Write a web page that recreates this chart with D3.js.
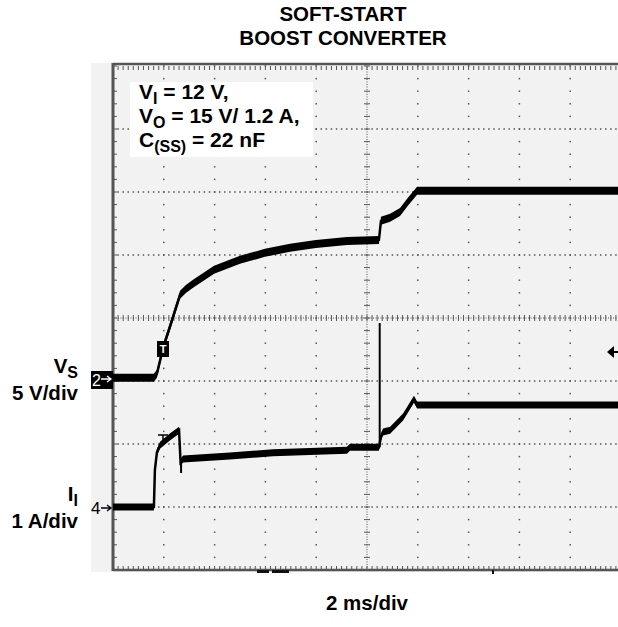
<!DOCTYPE html>
<html>
<head>
<meta charset="utf-8">
<script src="https://cdn.jsdelivr.net/npm/d3@7"></script>
<style>
  body { margin: 0; background: #fff; }
  svg { display: block; font-family: "Liberation Sans", Arial, sans-serif; }
</style>
</head>
<body>
<div id="chart"></div>
<script>
// Channel 2: V_S (5 V/div), channel 4: I_I (1 A/div), 2 ms/div
var vsTime  = [0, 1.61, 1.73, 1.97, 2.24, 2.64, 2.87, 3.15, 3.98, 5.0, 5.98, 6.97, 7.99, 9.21, 10.47, 10.55, 10.91, 11.3, 11.61, 11.97, 20];
var vsVolts = [0, 0, 0.32, 2.38, 4.05, 6.59, 7.06, 7.46, 8.57, 9.37, 9.92, 10.32, 10.63, 10.87, 10.95, 12.46, 12.7, 13.17, 13.97, 14.84, 14.84];

var iiTime = [0, 1.61, 1.65, 1.73, 1.85, 2.24, 2.6, 2.66, 2.76, 4.6, 6.3, 9.21, 9.33, 10.47, 10.55, 10.63, 10.91, 11.42, 11.85, 11.97, 20];
var iiAmps = [0, 0, 0.59, 0.87, 0.98, 1.11, 1.22, 0.71, 0.76, 0.81, 0.86, 0.90, 0.95, 0.95, 1.11, 1.19, 1.22, 1.43, 1.71, 1.62, 1.62];

// narrow glitches on the current trace
var spikeTime = [2.68, 10.5];
var spikeFrom = [0.76, 0.95];
var spikeTo   = [0.54, 2.92];

var titleLines = ["SOFT-START", "BOOST CONVERTER"];
var xLabel = "2 ms/div";

var width = 618, height = 627;

var svg = d3.select("#chart").append("svg")
    .attr("width", width)
    .attr("height", height);

var x = d3.scaleLinear()
    .domain([0, 20])
    .range([113, 621]);

// vertical graticule in divisions
var div = d3.scaleLinear()
    .domain([-4, 4])
    .range([570, 66]);

var yV = d3.scaleLinear()
    .domain([0, 5])
    .range([div(-0.95), div(0.05)]);

var yI = d3.scaleLinear()
    .domain([0, 1])
    .range([div(-3), div(-2)]);

// Screen background
svg.append("rect")
    .attr("x", 91)
    .attr("y", 63)
    .attr("width", width - 91)
    .attr("height", 509)
    .style("fill", "#f2f2f2");

var grid = svg.append("g")
    .attr("class", "grid");

var minorX = d3.range(0, 101).map(function(i) { return i / 5; }),
    minorY = d3.range(-20, 21).map(function(i) { return i / 5; });

// Major dotted lines
[2, 4, 6, 8, 12, 14, 16, 18].forEach(function(t) {
  grid.selectAll(null)
      .data(minorY)
    .enter().append("rect")
      .attr("x", x(t) - 0.75)
      .attr("y", function(d) { return div(d) - 0.75; })
      .attr("width", 1.5)
      .attr("height", 1.5)
      .style("fill", "#555");
});

[-3, -2, -1, 1, 2, 3].forEach(function(v) {
  grid.selectAll(null)
      .data(minorX)
    .enter().append("rect")
      .attr("x", function(d) { return x(d) - 0.75; })
      .attr("y", div(v) - 0.75)
      .attr("width", 1.5)
      .attr("height", 1.5)
      .style("fill", "#555");
});

// Center cross with minor ticks
grid.append("line")
    .attr("x1", x(0)).attr("x2", x(20))
    .attr("y1", div(0)).attr("y2", div(0))
    .style("stroke", "#555")
    .style("stroke-dasharray", "1,1.5");
grid.append("line")
    .attr("x1", x(10)).attr("x2", x(10))
    .attr("y1", div(-4)).attr("y2", div(4))
    .style("stroke", "#555")
    .style("stroke-dasharray", "1,1.5");

grid.selectAll(".hTick")
    .data(minorX)
  .enter().append("line")
    .attr("class", "hTick")
    .attr("x1", function(d) { return x(d); })
    .attr("x2", function(d) { return x(d); })
    .attr("y1", div(0) - 3)
    .attr("y2", div(0) + 3)
    .style("stroke", "#555");

grid.selectAll(".vTick")
    .data(minorY)
  .enter().append("line")
    .attr("class", "vTick")
    .attr("x1", x(10) - 3)
    .attr("x2", x(10) + 3)
    .attr("y1", function(d) { return div(d); })
    .attr("y2", function(d) { return div(d); })
    .style("stroke", "#555");

// Border ticks
grid.selectAll(".topTick")
    .data(minorX)
  .enter().append("line")
    .attr("x1", function(d) { return x(d); })
    .attr("x2", function(d) { return x(d); })
    .attr("y1", div(4))
    .attr("y2", div(4) + 4)
    .style("stroke", "#555");

grid.selectAll(".bottomTick")
    .data(minorX)
  .enter().append("line")
    .attr("x1", function(d) { return x(d); })
    .attr("x2", function(d) { return x(d); })
    .attr("y1", div(-4))
    .attr("y2", div(-4) - 4)
    .style("stroke", "#555");

grid.selectAll(".leftTick")
    .data(minorY)
  .enter().append("line")
    .attr("x1", x(0))
    .attr("x2", x(0) + 4)
    .attr("y1", function(d) { return div(d); })
    .attr("y2", function(d) { return div(d); })
    .style("stroke", "#555");

// Frame
svg.append("line")
    .attr("x1", x(0)).attr("x2", width)
    .attr("y1", div(4) - 2).attr("y2", div(4) - 2)
    .style("stroke", "#555")
    .style("stroke-width", 2.5);
svg.append("line")
    .attr("x1", x(0)).attr("x2", width)
    .attr("y1", div(-4)).attr("y2", div(-4))
    .style("stroke", "#555")
    .style("stroke-width", 2.5);
svg.append("line")
    .attr("x1", x(0)).attr("x2", x(0))
    .attr("y1", div(4) - 3).attr("y2", div(-4) + 1)
    .style("stroke", "#555")
    .style("stroke-width", 3);

// Position markers under the frame
svg.append("rect").attr("x", 257).attr("y", 570).attr("width", 12).attr("height", 3).style("fill", "#111");
svg.append("rect").attr("x", 272).attr("y", 570).attr("width", 17).attr("height", 3).style("fill", "#111");
svg.append("rect").attr("x", 492).attr("y", 570).attr("width", 2).attr("height", 4).style("fill", "#111");

// Traces
function trace(times, values, y, half) {
  var pts = times.map(function(t, i) { return [t, values[i]]; });

  var g = svg.append("g").attr("class", "trace");

  g.append("path")
      .datum(pts)
      .attr("d", d3.area()
          .x(function(d) { return x(d[0]); })
          .y0(function(d) { return y(d[1]) - half; })
          .y1(function(d) { return y(d[1]) + half; }))
      .style("fill", "#000");

  g.append("path")
      .datum(pts)
      .attr("d", d3.line()
          .x(function(d) { return x(d[0]); })
          .y(function(d) { return y(d[1]); }))
      .style("fill", "none")
      .style("stroke", "#000")
      .style("stroke-width", 2.5);
}

trace(vsTime, vsVolts, yV, 4);
trace(iiTime, iiAmps, yI, 3.5);

svg.selectAll(".spike")
    .data(spikeTime)
  .enter().append("line")
    .attr("class", "spike")
    .attr("x1", function(d) { return x(d); })
    .attr("x2", function(d) { return x(d); })
    .attr("y1", function(d, i) { return yI(spikeFrom[i]); })
    .attr("y2", function(d, i) { return yI(spikeTo[i]); })
    .style("stroke", "#000")
    .style("stroke-width", 2);

// Trigger marks
svg.append("rect")
    .attr("x", 157).attr("y", 341)
    .attr("width", 12).attr("height", 16)
    .style("fill", "#000");
svg.append("text")
    .attr("x", 163).attr("y", 353)
    .attr("text-anchor", "middle")
    .style("font-size", "11px")
    .style("font-weight", "bold")
    .style("fill", "#fff")
    .text("T");
svg.append("path")
    .attr("d", "M158,435H168M163,435V442")
    .style("stroke", "#000")
    .style("stroke-width", 1.5);

svg.append("path")
    .attr("d", "M607,352L614,346L614,358Z")
    .style("fill", "#000");
svg.append("line")
    .attr("x1", 613).attr("x2", 618)
    .attr("y1", 352).attr("y2", 352)
    .style("stroke", "#000")
    .style("stroke-width", 2);

// Channel ground markers
svg.append("rect")
    .attr("x", 91).attr("y", 371)
    .attr("width", 22).attr("height", 18)
    .style("fill", "#000");
svg.append("text")
    .attr("x", 92).attr("y", 386)
    .style("font-size", "16px")
    .style("fill", "#fff")
    .text("2");
svg.append("path")
    .attr("d", "M101,379H111M107,376L111,379L107,382")
    .style("fill", "none")
    .style("stroke", "#fff")
    .style("stroke-width", 1.3);

svg.append("text")
    .attr("x", 91).attr("y", 514)
    .style("font-size", "17px")
    .style("fill", "#000")
    .text("4");
svg.append("path")
    .attr("d", "M101,508H111M107,505L111,508L107,511")
    .style("fill", "none")
    .style("stroke", "#000")
    .style("stroke-width", 1.3);

// Titles
svg.selectAll(".title")
    .data(titleLines)
  .enter().append("text")
    .attr("class", "title")
    .attr("x", 343)
    .attr("y", function(d, i) { return 21 + i * 24; })
    .attr("text-anchor", "middle")
    .style("font-size", "20.5px")
    .style("font-weight", "bold")
    .text(function(d) { return d; });

svg.append("text")
    .attr("x", 367)
    .attr("y", 610)
    .attr("text-anchor", "middle")
    .style("font-size", "20.5px")
    .style("font-weight", "bold")
    .text(xLabel);

// Channel labels
function subLabel(xPos, yPos, main, sub, anchor) {
  var t = svg.append("text")
      .attr("x", xPos)
      .attr("y", yPos)
      .attr("text-anchor", anchor)
      .style("font-size", "20.5px")
      .style("font-weight", "bold");
  t.append("tspan").text(main);
  t.append("tspan")
      .attr("dy", 5)
      .style("font-size", "16px")
      .text(sub);
  return t;
}

subLabel(78, 373, "V", "S", "end");
svg.append("text")
    .attr("x", 78).attr("y", 400)
    .attr("text-anchor", "end")
    .style("font-size", "20.5px")
    .style("font-weight", "bold")
    .text("5 V/div");

subLabel(78, 501, "I", "I", "end");
svg.append("text")
    .attr("x", 78).attr("y", 528)
    .attr("text-anchor", "end")
    .style("font-size", "20.5px")
    .style("font-weight", "bold")
    .text("1 A/div");

// Conditions box
svg.append("rect")
    .attr("x", 130).attr("y", 82)
    .attr("width", 183).attr("height", 75)
    .style("fill", "#fff");

var cond = [
  ["V", "I", " = 12 V,"],
  ["V", "O", " = 15 V/ 1.2 A,"],
  ["C", "(SS)", " = 22 nF"]
];

cond.forEach(function(c, i) {
  var t = svg.append("text")
      .attr("x", 139)
      .attr("y", 99 + i * 24)
      .style("font-size", "21px")
      .style("font-weight", "bold");
  t.append("tspan").text(c[0]);
  t.append("tspan")
      .attr("dy", 5)
      .style("font-size", "16px")
      .text(c[1]);
  t.append("tspan")
      .attr("dy", -5)
      .text(c[2]);
});
</script>
</body>
</html>
